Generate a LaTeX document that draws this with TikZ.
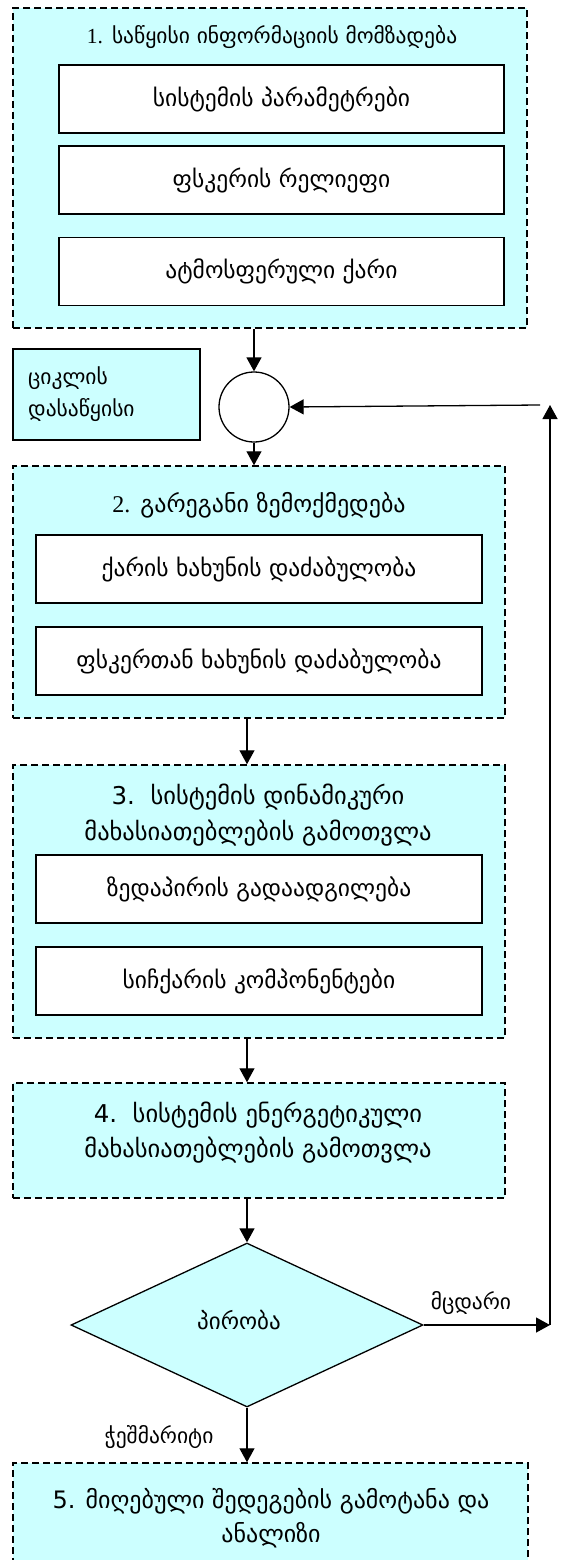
\documentclass[tikz,border=0pt]{standalone}
\usepackage{fontspec}
\setmainfont{DejaVu Sans}
\newfontfamily\numfont{Liberation Serif}
\usetikzlibrary{shapes.geometric,arrows.meta}
\definecolor{boxcyan}{HTML}{CCFFFF}
\begin{document}
\begin{tikzpicture}[x=1pt,y=-1pt,
  group/.style={draw, fill=boxcyan, dash pattern=on 7pt off 4pt, line width=1.5pt, rectangle, inner sep=0pt},
  item/.style={draw, fill=white, line width=1.3pt, rectangle, inner sep=0pt, minimum height=68pt, font=\fontsize{23.5}{26}\selectfont},
  title/.style={inner sep=0pt, font=\fontsize{21.5}{24}\selectfont, align=center},
  lbl/.style={inner sep=0pt, font=\fontsize{21.5}{24}\selectfont},
  arr/.style={line width=1.3pt, -{Triangle[length=14pt,width=15pt]}}]
\useasboundingbox (0,0) rectangle (560,1560);
\clip (0,0) rectangle (560,1560);
% block 1
\node[group, minimum width=514pt, minimum height=320pt] (g1) at (270,168) {};
\node[title] (t1) at (272,37) {{\numfont 1.} საწყისი ინფორმაციის მომზადება};
\node[item, minimum width=445pt] (p1) at (281.5,99) {სისტემის პარამეტრები};
\node[item, minimum width=445pt] (p2) at (281.5,180) {ფსკერის რელიეფი};
\node[item, minimum width=445pt] (p3) at (281.5,271.5) {ატმოსფერული ქარი};
% cycle start
\node[draw, fill=boxcyan, line width=1.3pt, minimum width=187pt, minimum height=91pt, inner sep=0pt] (cyc) at (106.5,394.5) {};
\node[lbl, anchor=west, align=left, font=\fontsize{21.5}{32}\selectfont] (cyct) at (28,394) {ციკლის\\დასაწყისი};
\node[draw, circle, fill=white, line width=1.3pt, minimum size=70pt, inner sep=0pt] (circ) at (254,407) {};
% block 2
\node[group, minimum width=492pt, minimum height=252pt] (g2) at (259,592) {};
\node[title, font=\fontsize{24}{27}\selectfont] (t2) at (259,505) {{\numfont 2.} გარეგანი ზემოქმედება};
\node[item, minimum width=446pt] (q1) at (259,569) {ქარის ხახუნის დაძაბულობა};
\node[item, minimum width=446pt] (q2) at (259,661) {ფსკერთან ხახუნის დაძაბულობა};
% block 3
\node[group, minimum width=492pt, minimum height=273pt] (g3) at (259,901.5) {};
\node[title, font=\fontsize{24.5}{36}\selectfont] (t3) at (258,815) {3.\ \ სისტემის დინამიკური\\მახასიათებლების გამოთვლა};
\node[item, minimum width=446pt] (r1) at (259,889) {ზედაპირის გადაადგილება};
\node[item, minimum width=446pt] (r2) at (259,981) {სიჩქარის კომპონენტები};
% block 4
\node[group, minimum width=492pt, minimum height=115pt] (g4) at (259,1140.5) {};
\node[title, font=\fontsize{24.5}{35}\selectfont] (t4) at (258,1132.5) {4.\ \ სისტემის ენერგეტიკული\\მახასიათებლების გამოთვლა};
% decision
\node[draw, diamond, fill=boxcyan, line width=1.3pt, minimum width=352pt, minimum height=164pt, inner sep=0pt] (d) at (247,1325) {};
\node[inner sep=0pt, font=\fontsize{23}{26}\selectfont] (dt) at (239,1320) {პირობა};
\node[lbl] (no) at (471,1303) {მცდარი};
\node[lbl] (yes) at (159,1437) {ჭეშმარიტი};
% block 5
\node[group, minimum width=515pt, minimum height=140pt] (g5) at (270.5,1533) {};
\node[title, font=\fontsize{24}{34}\selectfont] (t5) at (271,1518) {5. მიღებული შედეგების გამოტანა და\\ანალიზი};
% feedback
\coordinate (fb) at (550,1325);
\coordinate (fbtop) at (550,405);
\coordinate (fbin) at (540,405);
% connectors
\draw[arr] (g1.south -| circ.north) -- (circ.north);
\draw[arr] (circ.south) -- (circ.south |- g2.north);
\draw[arr] (d.north |- g2.south) -- (d.north |- g3.north);
\draw[arr] (d.north |- g3.south) -- (d.north |- g4.north);
\draw[arr] (d.north |- g4.south) -- (d.north);
\draw[arr] (d.south) -- (d.south |- g5.north);
\draw[arr] (d.east) -- (fb);
\draw[arr] (fb) -- (fbtop);
\draw[arr] (fbin) -- (circ.east);
\end{tikzpicture}
\end{document}
